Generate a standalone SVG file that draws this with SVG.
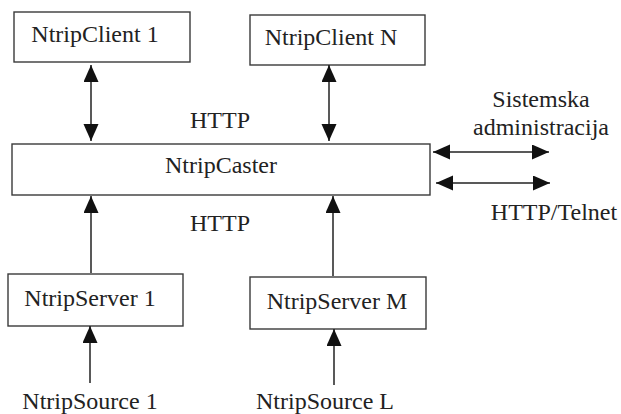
<svg xmlns="http://www.w3.org/2000/svg" width="621" height="414" viewBox="0 0 621 414">
<defs>
<style>
.box{fill:#fff;stroke:#3a3a3a;stroke-width:1.4}
.t{font-size:24px;fill:#222;text-anchor:middle}
.c{stroke:#222;stroke-width:1.5;fill:none}
</style>
<marker id="ah" markerUnits="userSpaceOnUse" markerWidth="18" markerHeight="16" refX="17" refY="7.5" orient="auto-start-reverse">
<path d="M0,0 L17,7.5 L0,15 Z" fill="#111"/>
</marker>
</defs>
<rect width="621" height="414" fill="#fff"/>
<g font-family="'Liberation Serif', 'Times New Roman', serif">
<g id="client1"><rect class="box" x="14" y="12" width="176" height="50"/><text class="t" x="95" y="42">NtripClient 1</text></g>
<g id="clientN"><rect class="box" x="250" y="15" width="175" height="50"/><text class="t" x="331" y="45">NtripClient N</text></g>
<g id="caster"><rect class="box" x="12" y="144" width="418" height="51"/><text class="t" x="221" y="173">NtripCaster</text></g>
<g id="server1"><rect class="box" x="8" y="274" width="175" height="52"/><text class="t" x="90" y="306">NtripServer 1</text></g>
<g id="serverM"><rect class="box" x="250" y="277" width="176" height="52"/><text class="t" x="337" y="309">NtripServer M</text></g>
<g id="source1"><text class="t" x="90" y="409">NtripSource 1</text></g>
<g id="sourceL"><text class="t" x="325" y="409">NtripSource L</text></g>
<g id="labels">
<text class="t" x="220" y="128">HTTP</text>
<text class="t" x="220" y="231">HTTP</text>
<text class="t" x="541" y="107">Sistemska</text>
<text class="t" x="541" y="135">administracija</text>
<text class="t" x="554" y="220">HTTP/Telnet</text>
</g>
</g>
<g id="connectors">
<line class="c" x1="91" y1="65" x2="91" y2="141" marker-start="url(#ah)" marker-end="url(#ah)"/>
<line class="c" x1="329" y1="65" x2="329" y2="141" marker-start="url(#ah)" marker-end="url(#ah)"/>
<line class="c" x1="91" y1="273" x2="91" y2="196" marker-end="url(#ah)"/>
<line class="c" x1="333" y1="276" x2="333" y2="196" marker-end="url(#ah)"/>
<line class="c" x1="90" y1="383" x2="90" y2="326" marker-end="url(#ah)"/>
<line class="c" x1="334" y1="385" x2="334" y2="329" marker-end="url(#ah)"/>
<line class="c" x1="433" y1="152" x2="549" y2="152" marker-start="url(#ah)" marker-end="url(#ah)"/>
<line class="c" x1="436" y1="183" x2="550" y2="183" marker-start="url(#ah)" marker-end="url(#ah)"/>
</g>
</svg>
